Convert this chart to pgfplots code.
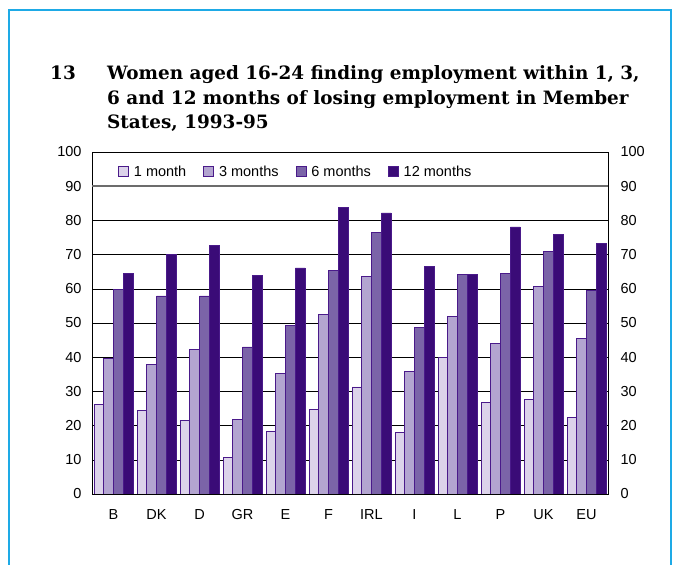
\documentclass[border=0pt]{standalone}
\usepackage{fontspec}
\setmainfont{Liberation Sans}
\newfontfamily\titlefont{DejaVu Serif}
\usepackage{pgfplots}
\usepackage{pgfplotstable}
\pgfplotsset{compat=1.18}

\definecolor{frameblue}{HTML}{1EAAE6}
\definecolor{cA}{HTML}{DCD3EA}
\definecolor{cB}{HTML}{B3A5D0}
\definecolor{cC}{HTML}{7B64A8}
\definecolor{cD}{HTML}{3A0B77}
\definecolor{edge}{HTML}{4A1A8A}

\pgfplotstableread{
x lab m1 m3 m6 m12
0 B 26.3 39.7 59.8 64.6
1 DK 24.5 37.8 57.9 70.1
2 D 21.4 42.2 57.9 72.6
3 GR 10.7 21.9 43.0 64.0
4 E 18.3 35.2 49.2 66.1
5 F 24.7 52.4 65.4 83.8
6 IRL 31.3 63.7 76.6 82.2
7 I 18.0 35.8 48.7 66.6
8 L 40.0 52.0 64.1 64.1
9 P 26.7 44.0 64.5 78.1
10 UK 27.6 60.8 71.0 75.8
11 EU 22.5 45.4 59.5 73.3
}\datatable

\pgfplotsset{
  common/.style={
    at={(92pt,71pt)}, anchor=south west,
    scale only axis, width=516pt, height=342pt,
    xmin=-0.5, xmax=11.5, ymin=0, ymax=100,
    ytick={0,10,...,100}, major tick length=0pt,
    axis line style={black, line width=0.8pt},
    /pgf/number format/assume math mode=true,
    tick label style={font=\fontsize{14.5}{15}\selectfont},
  }
}

\begin{document}
\begin{tikzpicture}
\path[use as bounding box] (0pt,0pt) rectangle (681pt,565pt);
% frame, open at the bottom
\draw[frameblue, line width=2.5pt] (9pt,-5pt) -- (9pt,555pt) -- (671pt,555pt) -- (671pt,-5pt);

% title
\begin{scope}[every node/.style={anchor=base west, inner sep=0pt, font=\titlefont\bfseries\fontsize{18.4}{24}\selectfont}]
\node at (50pt,485pt) {13};
\node at (107pt,485pt) {Women aged 16-24 finding employment within 1, 3,};
\node at (107pt,460.5pt) {6 and 12 months of losing employment in Member};
\node at (107pt,436pt) {States, 1993-95};
\end{scope}

\begin{axis}[
  common,
  ybar=0pt, bar width=9.75pt,
  xtick=data, xticklabels from table={\datatable}{lab},
  ymajorgrids, grid style={black, line width=0.5pt},
  xticklabel style={yshift=-12pt},
  yticklabel style={xshift=-7pt},
  legend columns=4,
  legend style={draw=none, fill=none, at={(0.395,0.942)}, anchor=center,
    font=\fontsize{14.5}{15}\selectfont,
    /tikz/every odd column/.append style={column sep=3pt},
    /tikz/every even column/.append style={column sep=15pt}},
  legend image code/.code={\draw[#1] (0pt,-5pt) rectangle (10pt,5pt);},
]
\addplot[fill=cA, draw=edge, line width=0.7pt] table[x=x, y=m1] {\datatable};
\addplot[fill=cB, draw=edge, line width=0.7pt] table[x=x, y=m3] {\datatable};
\addplot[fill=cC, draw=edge, line width=0.7pt] table[x=x, y=m6] {\datatable};
\addplot[fill=cD, draw=edge, line width=0.7pt] table[x=x, y=m12] {\datatable};
\legend{1 month, 3 months, 6 months, 12 months}
\draw[gray!85!black, line width=1.6pt] (axis cs:-0.5,90) -- (axis cs:11.5,90);
\node[anchor=south west, font=\fontsize{12.5}{12.5}\selectfont] at (rel axis cs:0,1) [xshift=5pt, yshift=1pt] {\%};
\end{axis}

% right-hand scale
\begin{axis}[
  common,
  axis x line=none, axis y line*=right,
  yticklabel style={xshift=9pt},
]
\end{axis}
\end{tikzpicture}
\end{document}
